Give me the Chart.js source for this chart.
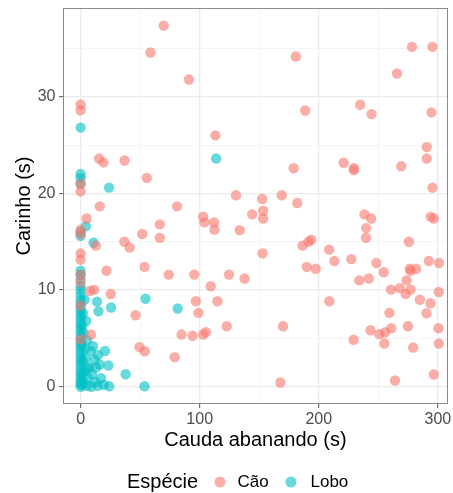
<!DOCTYPE html>
<html>
<head>
<meta charset="utf-8">
<script src="https://cdn.jsdelivr.net/npm/chart.js@4.4.1/dist/chart.umd.min.js"></script>
<style>
html,body{margin:0;padding:0;background:#fff;}
#wrap{width:453px;height:493px;}
</style>
</head>
<body>
<div id="wrap"><canvas id="c" width="453" height="493"></canvas></div>
<script>
// ---- data ----
const speciesNames = ["Cão", "Lobo"];
const legendTitle = "Espécie";
const xTitle = "Cauda abanando (s)";
const yTitle = "Carinho (s)";

const xTickValues = [0, 50, 100, 150, 200, 250, 300];
const xMajorTicks = [0, 100, 200, 300];
const yTickValues = [0, 5, 10, 15, 20, 25, 30, 35];
const yMajorTicks = [0, 10, 20, 30];

const caoX = [69.8, 58.7, 91, 0, 0, 113.2, 15.5, 19.2, 37, 55.6, 0, 0, 16.1, 81, 130.5, 152.5,
  180.8, 278.2, 295.5, 265.7, 188.6, 234.8, 244.3, 294.7, 290.7, 290.7, 220.9, 229.5, 229.5, 269.3,
  178.9, 295.5, 168.9, 182, 153.3, 144.1, 153.3, 152.8, 238.4, 244, 239.8, 239.6, 294, 296.6, 275.7,
  186.4, 191.4, 193.7, 208.7, 213.1, 190, 197.5, 227.3, 248.4, 254.6, 234, 242, 276.5, 277.1, 281.8,
  292.4, 301, 273.8, 260.7, 268, 277.1, 273, 284.9, 293.8, 300.8, 290.5, 259.3, 208.9, 170, 243.4,
  250.9, 255.7, 261, 274.9, 300.5, 229.2, 255.1, 279.3, 300.8, 167.8, 264, 296.6, 5, 102.9, 104,
  112.1, 112.4, 133.6, 66.5, 66.5, 51.8, 0, 0, 36.7, 41.2, 12.8, 0, 0, 21.7, 53.7, 74, 95.4, 124.6,
  137.7, 0, 0, 109.3, 7.8, 11.4, 25.3, 96.8, 114.9, 99, 46.2, 122.7, 84.8, 94, 102.9, 105.2, 8.8,
  0, 49.5, 53.9, 79, 0];
const caoY = [37.35, 34.57, 31.78, 29.2, 28.6, 26.0, 23.6, 23.2, 23.4, 21.6, 21.0, 20.2, 18.66, 18.66, 19.8, 19.42,
  34.15, 35.15, 35.15, 32.4, 28.57, 29.16, 28.2, 28.37, 24.8, 23.6, 23.17, 22.6, 22.4, 22.8,
  22.6, 20.6, 19.8, 19.0, 18.2, 17.83, 17.4, 13.8, 17.83, 17.4, 16.4, 15.4, 17.6, 17.4, 15.0,
  14.6, 15.0, 15.2, 14.18, 13.0, 12.4, 12.2, 13.2, 12.8, 11.84, 11.0, 11.2, 12.2, 12.0, 12.2,
  13.0, 12.8, 11.0, 10.05, 10.2, 10.05, 9.6, 9.0, 8.64, 9.8, 7.6, 7.64, 8.84, 6.26, 5.85,
  5.43, 5.64, 6.05, 6.26, 6.05, 4.86, 4.47, 4.06, 4.47, 0.44, 0.65, 1.27, 17.4, 17.6, 17.0,
  17.0, 16.25, 16.2, 16.8, 15.4, 15.8, 16.25, 15.8, 15.0, 14.4, 14.6, 13.8, 13.15, 12.0, 12.4, 11.6, 11.6, 11.6,
  11.2, 11.6, 10.8, 10.4, 9.9, 10.05, 9.6, 8.84, 8.84, 7.64, 7.4, 6.26, 5.4, 5.27, 5.4, 5.64, 5.4,
  4.9, 4.1, 3.68, 3.06, 8.4];

const loboX = [0, 113.8, 0, 0, 0, 23.9, 4.4, 0, 0, 10.9, 0, 0, 0, 0, 0, 0, 0, 3.3, 13.8, 15, 25.6, 54.5, 81.5,
  0, 0, 0, 0, 0, 0, 0, 0, 0, 0, 0, 0, 0, 0, 0, 0, 0, 0, 0, 0, 0, 0, 0,
  1.2, 1.5, 1.8, 1.0, 1.3, 2.5, 3.2, 4.1, 3.6, 5.2, 6.1, 7.0, 8.3, 8.9, 9.6, 11.7, 13.0, 12.2, 14.4,
  17.2, 16.0, 20.5, 23.3, 24.0, 19.5, 37.8, 53.7, 5.5, 10.4, 14.7, 2.6, 4.8, 2.0, 6.5];
const loboY = [26.8, 23.6, 22.0, 21.6, 21.0, 20.6, 16.6, 16.0, 15.6, 14.9, 12.0, 11.6, 11.1, 10.4, 10.0, 9.5, 9.0, 9.0, 8.8, 7.8, 8.2, 9.1, 8.1,
  8.6, 8.2, 7.8, 7.4, 7.0, 6.6, 6.2, 5.8, 5.4, 5.0, 4.6, 4.2, 3.8, 3.4, 3.0, 2.6, 2.2, 1.8, 1.4, 1.0, 0.6, 0.3, 0.0,
  0.2, 1.2, 2.7, 4.4, 6.3, 0.5, 1.6, 2.9, 3.9, 0.1, 0.9, 2.0, 3.7, 0.0, 1.3, 2.8, 2.0, 0.5, 0.1,
  0.9, 2.3, 3.7, 2.2, 0.05, 0.2, 1.3, 0.05, 4.8, 4.2, 3.3, 5.6, 6.8, 7.6, 1.9];

const colors = ["rgba(248,118,109,0.6)", "rgba(0,191,196,0.6)"];
const FONT = "'Liberation Sans', Arial, Helvetica, sans-serif";

function pts(xs, ys) { return xs.map((x, i) => ({x: x, y: ys[i]})); }

const panelPlugin = {
  id: 'panel',
  afterDatasetsDraw(chart) {
    const a = chart.chartArea, ctx = chart.ctx;
    ctx.save();
    ctx.strokeStyle = '#8a8a8a';
    ctx.lineWidth = 1;
    ctx.strokeRect(Math.round(a.left) + 0.5, Math.round(a.top) + 0.5,
      Math.round(a.right - a.left) - 1, Math.round(a.bottom - a.top) - 1);
    ctx.restore();
  },
  afterDraw(chart) {
    const ctx = chart.ctx;
    const cy = 482.5;
    ctx.save();
    ctx.textBaseline = 'middle';
    ctx.textAlign = 'left';
    ctx.fillStyle = '#000';
    ctx.font = '20px ' + FONT;
    ctx.fillText(legendTitle, 127, cy);
    const keyX = [220, 291];
    const textX = [237.5, 310.5];
    ctx.font = '17px ' + FONT;
    for (let i = 0; i < speciesNames.length; i++) {
      ctx.beginPath();
      ctx.fillStyle = colors[i];
      ctx.arc(keyX[i], cy - 0.5, 5.5, 0, Math.PI * 2);
      ctx.fill();
      ctx.fillStyle = '#000';
      ctx.fillText(speciesNames[i], textX[i], cy);
    }
    ctx.restore();
  }
};

function gridColor(majors) {
  return (c) => (c.tick && majors.includes(c.tick.value)) ? '#EBEBEB' : '#F4F4F4';
}
function gridWidth(majors) {
  return (c) => (c.tick && majors.includes(c.tick.value)) ? 1.3 : 1;
}
function tickColor(majors) {
  return (c) => (c.tick && majors.includes(c.tick.value)) ? '#555' : 'rgba(0,0,0,0)';
}

new Chart(document.getElementById('c'), {
  type: 'scatter',
  data: {
    datasets: [
      {label: speciesNames[0], data: pts(caoX, caoY), backgroundColor: colors[0], borderWidth: 0, pointRadius: 5.2},
      {label: speciesNames[1], data: pts(loboX, loboY), backgroundColor: colors[1], borderWidth: 0, pointRadius: 5.2}
    ]
  },
  plugins: [panelPlugin],
  options: {
    responsive: false,
    animation: false,
    events: [],
    layout: {padding: {left: 0, right: 3, top: 8, bottom: 41}},
    plugins: {legend: {display: false}, tooltip: {enabled: false}},
    scales: {
      x: {
        type: 'linear', min: -14.78, max: 308.35,
        afterBuildTicks(s) { s.ticks = xTickValues.map(v => ({value: v})); },
        afterFit(s) { s.height = 48; s.paddingLeft = 0; s.paddingRight = 0; },
        border: {display: false},
        grid: {color: gridColor(xMajorTicks), lineWidth: gridWidth(xMajorTicks), tickColor: tickColor(xMajorTicks), tickLength: 4, tickWidth: 1},
        ticks: {
          autoSkip: false, maxRotation: 0, padding: 2, color: '#4D4D4D',
          font: {family: FONT, size: 16},
          callback: (v) => xMajorTicks.includes(v) ? String(v) : ''
        },
        title: {display: true, text: xTitle, color: '#000', font: {family: FONT, size: 20}, padding: {top: 0, bottom: 0}}
      },
      y: {
        type: 'linear', min: -1.78, max: 39.17,
        afterBuildTicks(s) { s.ticks = yTickValues.map(v => ({value: v})); },
        afterFit(s) { s.width = 63; s.paddingTop = 0; s.paddingBottom = 0; },
        border: {display: false},
        grid: {color: gridColor(yMajorTicks), lineWidth: gridWidth(yMajorTicks), tickColor: tickColor(yMajorTicks), tickLength: 4, tickWidth: 1},
        ticks: {
          autoSkip: false, padding: 3.5, color: '#4D4D4D',
          font: {family: FONT, size: 16},
          callback: (v) => yMajorTicks.includes(v) ? String(v) : ''
        },
        title: {display: true, text: yTitle, color: '#000', font: {family: FONT, size: 20}, padding: {top: 12, bottom: 0}}
      }
    }
  }
});
</script>
</body>
</html>
